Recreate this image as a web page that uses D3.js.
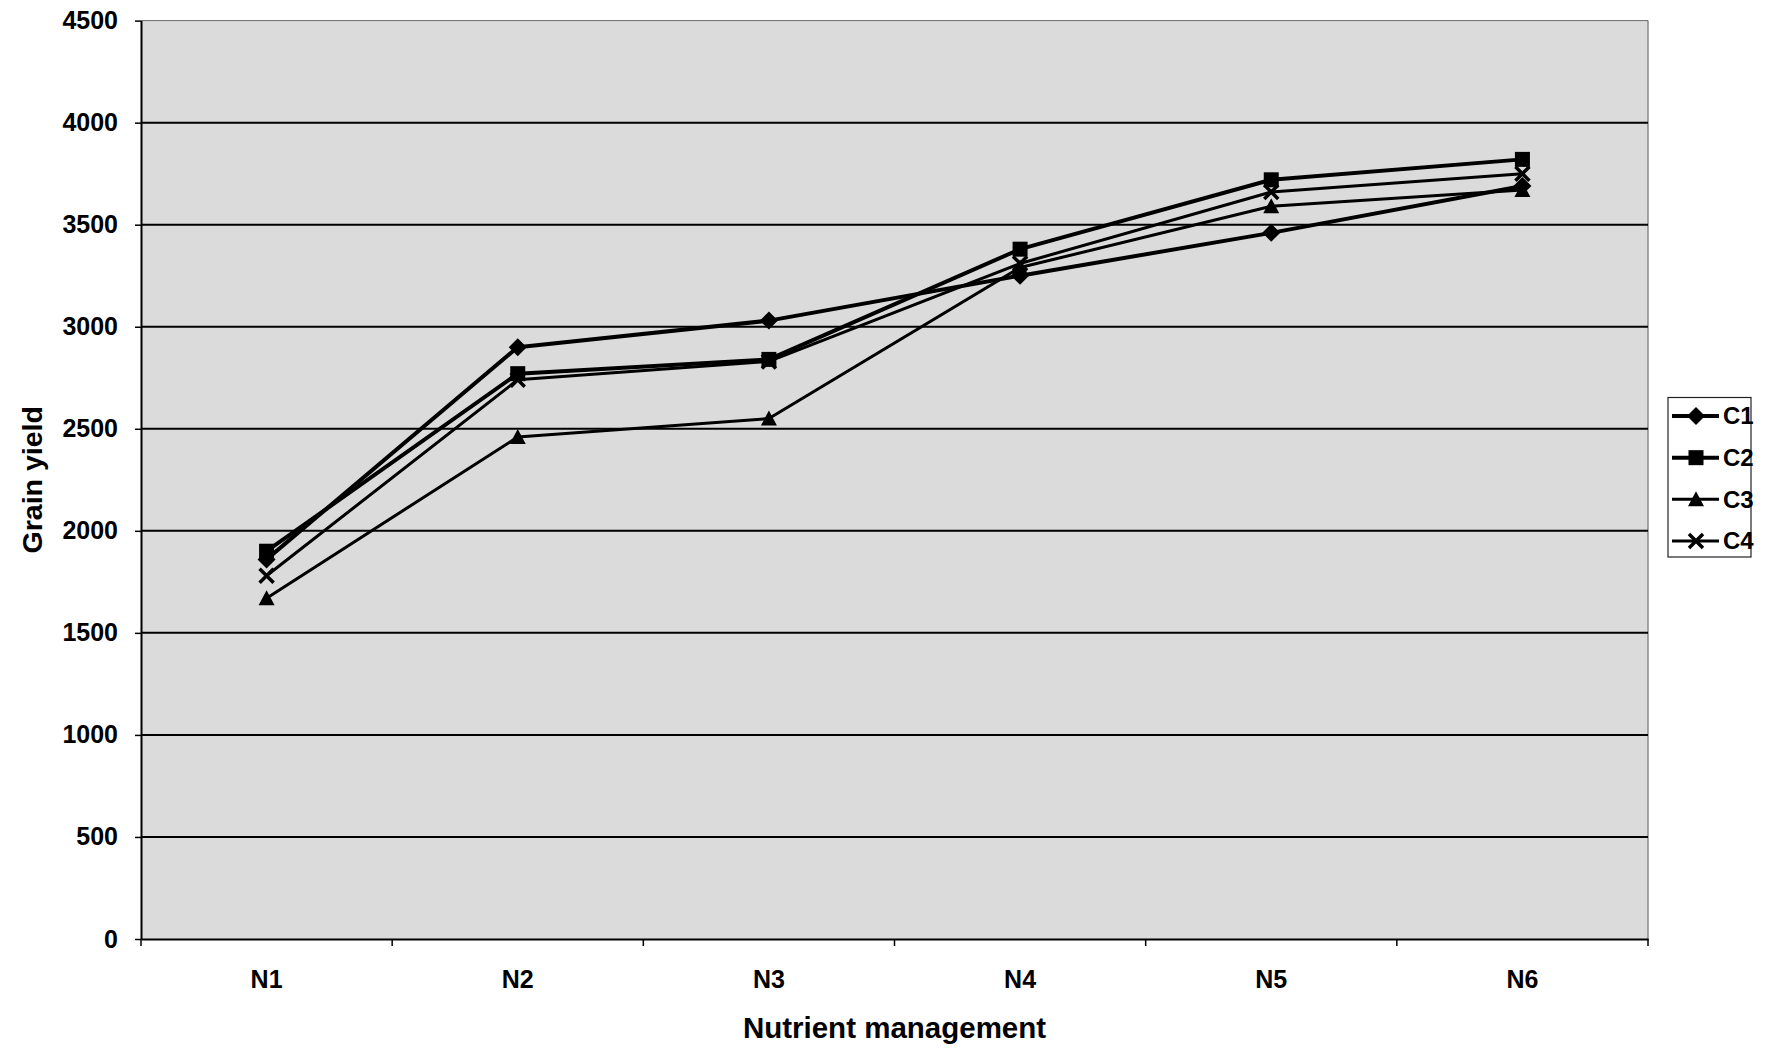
<!DOCTYPE html>
<html>
<head>
<meta charset="utf-8">
<script src="https://cdn.jsdelivr.net/npm/d3@7"></script>
<style>
  html, body { margin: 0; padding: 0; background: #fff; }
  svg { display: block; font-family: "Liberation Sans", Arial, Helvetica, sans-serif; }
</style>
</head>
<body>
<svg id="chart" width="1791" height="1050"></svg>
<script>
// ---- data ----
const categories = ["N1", "N2", "N3", "N4", "N5", "N6"];
const seriesNames = ["C1", "C2", "C3", "C4"];
const c1Values = [1860, 2900, 3030, 3250, 3460, 3690];
const c2Values = [1900, 2770, 2840, 3380, 3720, 3820];
const c3Values = [1670, 2460, 2550, 3290, 3590, 3670];
const c4Values = [1780, 2740, 2830, 3310, 3660, 3750];
const yTicks = [0, 500, 1000, 1500, 2000, 2500, 3000, 3500, 4000, 4500];
const xTitle = "Nutrient management";
const yTitle = "Grain yield";

const seriesValues = [c1Values, c2Values, c3Values, c4Values];
const markerTypes = ["diamond", "square", "triangle", "cross"];
const lineWidths = [4, 4, 3, 3];

// ---- layout ----
const svg = d3.select("#chart");
const plot = { left: 141, right: 1648, top: 20.6, bottom: 939 };

const x = d3.scaleBand().domain(categories).range([plot.left, plot.right]).paddingInner(0).paddingOuter(0);
const y = d3.scaleLinear().domain([0, 4500]).range([plot.bottom, plot.top]);
const cx = d => x(d) + x.bandwidth() / 2;

svg.append("rect").attr("width", 1791).attr("height", 1050).attr("fill", "#fff");

// plot background
svg.append("rect")
  .attr("x", plot.left).attr("y", plot.top)
  .attr("width", plot.right - plot.left).attr("height", plot.bottom - plot.top)
  .attr("fill", "#dbdbdb");

// right border (faint)
svg.append("line")
  .attr("x1", plot.right).attr("x2", plot.right)
  .attr("y1", plot.top).attr("y2", plot.bottom)
  .attr("stroke", "#8a8a8a").attr("stroke-width", 1.5);

// gridlines
svg.append("g").selectAll("line")
  .data(yTicks.filter(t => t > 0))
  .join("line")
  .attr("x1", plot.left).attr("x2", plot.right)
  .attr("y1", d => y(d)).attr("y2", d => y(d))
  .attr("stroke", d => d === 4500 ? "#6a6a6a" : "#000")
  .attr("stroke-width", d => d === 4500 ? 1 : 2);

// y axis
const yAxis = svg.append("g")
  .attr("transform", `translate(${plot.left},0)`)
  .call(d3.axisLeft(y).tickValues(yTicks).tickFormat(d3.format("d")).tickSize(6).tickPadding(17).tickSizeOuter(0));
yAxis.select(".domain").attr("stroke", "#000").attr("stroke-width", 2);
yAxis.selectAll(".tick line").attr("stroke", "#000").attr("stroke-width", 1.5);
yAxis.selectAll(".tick text")
  .attr("font-size", 25).attr("font-weight", "bold").attr("fill", "#000")
  .attr("font-family", "'Liberation Sans', Arial, sans-serif");

// x axis
const xAxis = svg.append("g")
  .attr("transform", `translate(0,${plot.bottom})`)
  .call(d3.axisBottom(x).tickSize(0).tickPadding(0).tickSizeOuter(0));
xAxis.select(".domain").attr("stroke", "#000").attr("stroke-width", 2);
xAxis.selectAll(".tick text")
  .attr("y", 40).attr("dy", "0.35em")
  .attr("font-size", 25).attr("font-weight", "bold").attr("fill", "#000")
  .attr("font-family", "'Liberation Sans', Arial, sans-serif");
// boundary tick marks
const boundaries = categories.map(c => x(c)).concat([x(categories[categories.length - 1]) + x.bandwidth()]);
svg.append("g").selectAll("line")
  .data(boundaries)
  .join("line")
  .attr("x1", d => d).attr("x2", d => d)
  .attr("y1", plot.bottom).attr("y2", plot.bottom + 7)
  .attr("stroke", "#000").attr("stroke-width", 1.5);

// axis titles
svg.append("text")
  .attr("x", (plot.left + plot.right) / 2).attr("y", 1028).attr("dy", "0.35em")
  .attr("text-anchor", "middle").attr("font-size", 29.5).attr("font-weight", "bold")
  .text(xTitle);
svg.append("text")
  .attr("transform", `translate(32,${(plot.top + plot.bottom) / 2}) rotate(-90)`)
  .attr("dy", "0.35em")
  .attr("text-anchor", "middle").attr("font-size", 28.5).attr("font-weight", "bold")
  .text(yTitle);

// marker drawing
function drawMarker(g, type) {
  if (type === "diamond") {
    g.append("path").attr("d", "M0,-9L9,0L0,9L-9,0Z").attr("fill", "#000");
  } else if (type === "square") {
    g.append("rect").attr("x", -7.5).attr("y", -7.5).attr("width", 15).attr("height", 15).attr("fill", "#000");
  } else if (type === "triangle") {
    g.append("path").attr("d", "M0,-8L8,7L-8,7Z").attr("fill", "#000");
  } else {
    g.append("path").attr("d", "M-7,-7L7,7M-7,7L7,-7")
      .attr("stroke", "#000").attr("stroke-width", 3.5).attr("fill", "none");
  }
}

// series lines + markers
const line = d3.line().x((d, i) => cx(categories[i])).y(d => y(d));
seriesValues.forEach((vals, si) => {
  svg.append("path")
    .datum(vals)
    .attr("d", line)
    .attr("fill", "none")
    .attr("stroke", "#000")
    .attr("stroke-width", lineWidths[si])
    .attr("stroke-linejoin", "round");
});
seriesValues.forEach((vals, si) => {
  vals.forEach((v, i) => {
    const g = svg.append("g").attr("transform", `translate(${cx(categories[i])},${y(v)})`);
    drawMarker(g, markerTypes[si]);
  });
});

// legend
const legend = { x: 1668, y: 397.5, w: 83, h: 159.5 };
svg.append("rect")
  .attr("x", legend.x).attr("y", legend.y).attr("width", legend.w).attr("height", legend.h)
  .attr("fill", "#fff").attr("stroke", "#222").attr("stroke-width", 1.2);
const legendY = d3.scalePoint().domain(seriesNames).range([416, 541]);
seriesNames.forEach((name, si) => {
  const ly = legendY(name);
  svg.append("line")
    .attr("x1", 1672).attr("x2", 1719).attr("y1", ly).attr("y2", ly)
    .attr("stroke", "#000").attr("stroke-width", lineWidths[si]);
  const g = svg.append("g").attr("transform", `translate(1696,${ly})`);
  drawMarker(g, markerTypes[si]);
  svg.append("text")
    .attr("x", 1723).attr("y", ly).attr("dy", "0.35em")
    .attr("font-size", 24).attr("font-weight", "bold")
    .text(name);
});
</script>
</body>
</html>
